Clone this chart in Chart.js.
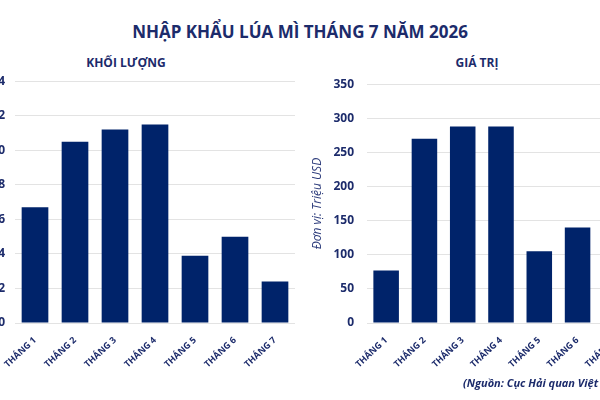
<!DOCTYPE html>
<html>
<head>
<meta charset="utf-8">
<script src="https://cdn.jsdelivr.net/npm/chart.js@4.4.1/dist/chart.umd.min.js"></script>
<style>
    html, body { margin: 0; padding: 0; }
    body { width: 600px; height: 400px; overflow: hidden; position: relative; background: #fff; font-family: 'Open Sans', sans-serif; color: #1c2b6b; }
    .title { position: absolute; left: 0; width: 600px; top: 20px; text-align: center; font-weight: 700; font-size: 17px; }
    .sub { position: absolute; top: 54px; font-weight: 700; font-size: 12px; text-align: center; }
    .box { position: absolute; }
    .source { position: absolute; left: 463px; top: 375px; white-space: nowrap; font-weight: 700; font-style: italic; font-size: 11px; }
</style>
</head>
<body>
<div class="title">NHẬP KHẨU LÚA MÌ THÁNG 7 NĂM 2026</div>
<div class="sub" style="left:66px;width:120px;">KHỐI LƯỢNG</div>
<div class="sub" style="left:417px;width:120px;">GIÁ TRỊ</div>
<div class="box" style="left:-25px;top:64px;width:320px;height:316px;"><canvas id="volumeChart"></canvas></div>
<div class="box" style="left:307px;top:64px;width:328px;height:316px;"><canvas id="valueChart"></canvas></div>
<div class="source">(Nguồn: Cục Hải quan Việt Nam)</div>

<script>
const months = ['THÁNG 1', 'THÁNG 2', 'THÁNG 3', 'THÁNG 4', 'THÁNG 5', 'THÁNG 6', 'THÁNG 7'];
const volume = [6.7, 10.5, 11.2, 11.5, 3.9, 5.0, 2.4];
const value = [77, 270, 288, 288, 105, 140, 65];

const navy = '#00236a';
const textColor = '#1c2b6b';

function makeChart(id, data, yMax, yStep, yWidth, yPad, yTitle) {
    new Chart(document.getElementById(id), {
        type: 'bar',
        data: {
            labels: months,
            datasets: [{
                data: data,
                backgroundColor: navy,
                categoryPercentage: 1,
                barPercentage: 0.667
            }]
        },
        options: {
            responsive: true,
            maintainAspectRatio: false,
            animation: false,
            layout: { padding: 0 },
            plugins: { legend: { display: false }, tooltip: { enabled: false } },
            scales: {
                x: {
                    grid: { display: false },
                    border: { display: false },
                    ticks: {
                        color: textColor,
                        font: { family: 'Open Sans', size: 9, weight: 'bold' },
                        minRotation: 43, maxRotation: 43,
                        padding: 4
                    },
                    afterFit: (scale) => { scale.height = 57; }
                },
                y: {
                    min: 0, max: yMax,
                    grid: { color: '#e3e3e3', drawTicks: false },
                    border: { display: false },
                    ticks: {
                        stepSize: yStep,
                        color: textColor,
                        padding: yPad,
                        font: { family: 'Open Sans', size: 12, weight: 'bold' }
                    },
                    title: yTitle ? {
                        display: true,
                        text: yTitle,
                        color: '#2e3d7c',
                        padding: { top: 3, bottom: 0 },
                        font: { family: 'Open Sans', size: 12, style: 'italic' }
                    } : { display: false },
                    afterFit: (scale) => { scale.width = yWidth; }
                }
            }
        }
    });
}

makeChart('volumeChart', volume, 14, 2, 40, 10, null);
makeChart('valueChart', value, 350, 50, 60, 13, 'Đơn vị: Triệu USD');
</script>
</body>
</html>
